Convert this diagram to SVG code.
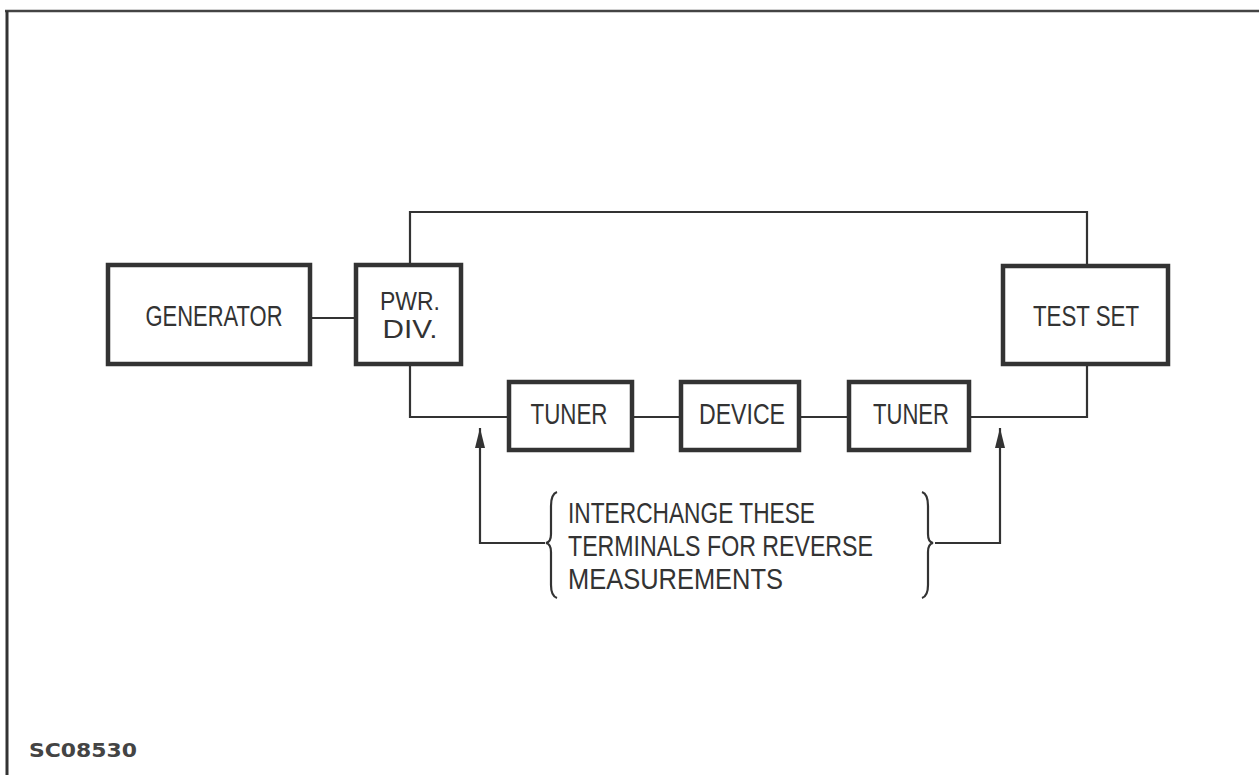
<svg xmlns="http://www.w3.org/2000/svg" width="1259" height="775" viewBox="0 0 1259 775">
<defs>
<style>
.box{fill:#fff;stroke:#333;stroke-width:4.5}
.ln{fill:none;stroke:#333;stroke-width:2.2}
.t{font-family:"Liberation Sans",Arial,sans-serif;font-size:29px;fill:#333;text-anchor:middle}
.s{font-family:"Liberation Sans",Arial,sans-serif;font-size:25px;fill:#333;text-anchor:middle}
.n{font-family:"Liberation Sans",Arial,sans-serif;font-size:29px;fill:#333}
</style>
<marker id="ah" viewBox="0 0 20 10" refX="20" refY="5" markerWidth="20" markerHeight="10" markerUnits="userSpaceOnUse" orient="auto">
<path d="M0,0 L20,5 L0,10 Z" fill="#333"/>
</marker>
</defs>
<rect width="1259" height="775" fill="#fff"/>
<g id="frame">
<path d="M5,11 L1259,11" stroke="#444" stroke-width="2.5" fill="none"/>
<path d="M7,11 L7,775" stroke="#333" stroke-width="3" fill="none"/>
</g>
<g id="connectors">
<path class="ln" d="M310,318 L355,318"/>
<path class="ln" d="M410,264 L410,212 L1087,212 L1087,265"/>
<path class="ln" d="M410,365 L410,417 L508,417"/>
<path class="ln" d="M632,417 L680,417"/>
<path class="ln" d="M800,417 L848,417"/>
<path class="ln" d="M970,417 L1087,417 L1087,364"/>
<path class="ln" d="M545,543 L480,543 L480,428" marker-end="url(#ah)"/>
<path class="ln" d="M935,543 L1000,543 L1000,428" marker-end="url(#ah)"/>
<path class="ln" stroke-width="1.6" d="M557,492 Q551,494 551,506 L551,534 Q551,542 546,543 Q551,544 551,552 L551,585 Q551,596 557,598"/>
<path class="ln" stroke-width="1.6" d="M922,492 Q928,494 928,506 L928,534 Q928,542 933,543 Q928,544 928,552 L928,585 Q928,596 922,598"/>
</g>
<g id="generator">
<rect class="box" x="108" y="265" width="202" height="99"/>
<text class="t" x="214" y="326" textLength="137" lengthAdjust="spacingAndGlyphs">GENERATOR</text>
</g>
<g id="pwrdiv">
<rect class="box" x="356" y="265" width="105" height="99"/>
<text class="s" x="410" y="310" textLength="60" lengthAdjust="spacingAndGlyphs">PWR.</text>
<text class="s" x="410" y="338" textLength="55" lengthAdjust="spacingAndGlyphs">DIV.</text>
</g>
<g id="testset">
<rect class="box" x="1003" y="266" width="165" height="98"/>
<text class="t" x="1086" y="326" textLength="106" lengthAdjust="spacingAndGlyphs">TEST SET</text>
</g>
<g id="tuner1">
<rect class="box" x="509" y="382" width="123" height="68"/>
<text class="t" x="569" y="424" textLength="77" lengthAdjust="spacingAndGlyphs">TUNER</text>
</g>
<g id="device">
<rect class="box" x="681" y="382" width="118" height="68"/>
<text class="t" x="742" y="424" textLength="86" lengthAdjust="spacingAndGlyphs">DEVICE</text>
</g>
<g id="tuner2">
<rect class="box" x="849" y="382" width="120" height="68"/>
<text class="t" x="911" y="424" textLength="76" lengthAdjust="spacingAndGlyphs">TUNER</text>
</g>
<g id="note">
<text class="n" x="568" y="523" textLength="247" lengthAdjust="spacingAndGlyphs">INTERCHANGE THESE</text>
<text class="n" x="568" y="556" textLength="305" lengthAdjust="spacingAndGlyphs">TERMINALS FOR REVERSE</text>
<text class="n" x="568" y="589" textLength="215" lengthAdjust="spacingAndGlyphs">MEASUREMENTS</text>
</g>
<g id="label">
<text x="29" y="757" font-family="'DejaVu Sans',sans-serif" font-size="19" font-weight="bold" fill="#444" textLength="108" lengthAdjust="spacingAndGlyphs">SC08530</text>
</g>
</svg>
